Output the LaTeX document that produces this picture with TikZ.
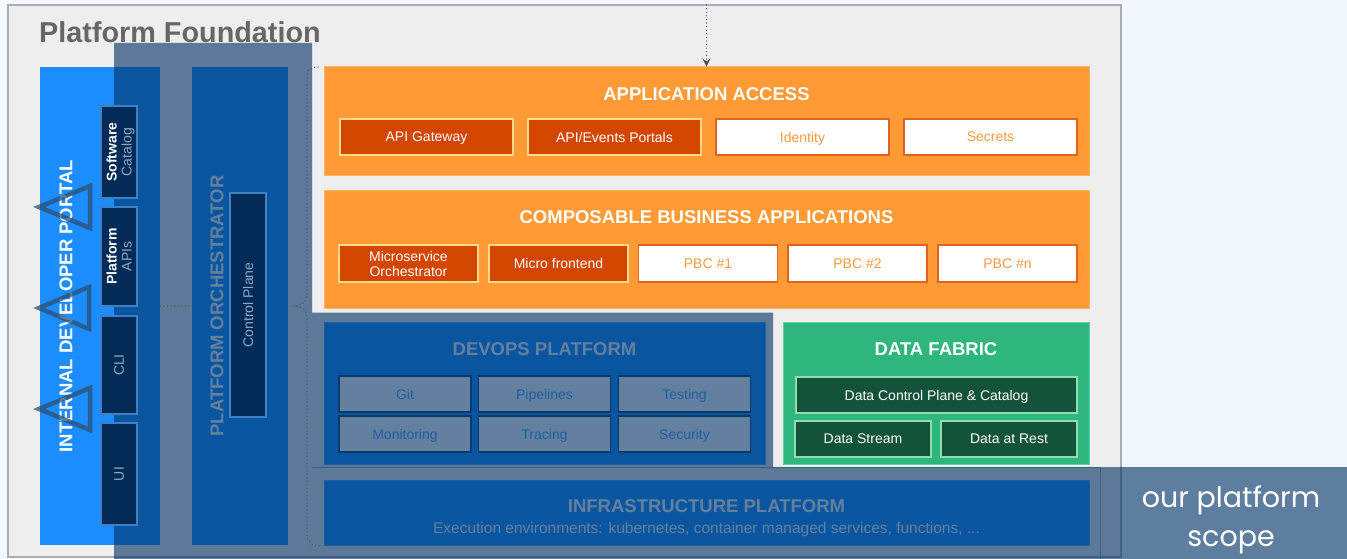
\documentclass[tikz,border=0pt]{standalone}
\usepackage{fontspec}
\setmainfont{Liberation Sans}
\newfontfamily\scopefont{Poppins}
\usetikzlibrary{arrows.meta,calc,positioning}

\definecolor{pagebg}{HTML}{F3F8FE}
\definecolor{foundgray}{HTML}{EEEEEE}
\definecolor{foundline}{HTML}{ADADAD}
\definecolor{foundtext}{HTML}{666666}
\definecolor{portalblue}{HTML}{1B8DFF}
\definecolor{portaledge}{HTML}{4DA6FF}
\definecolor{accessorange}{HTML}{FF9A35}
\definecolor{orangeedge}{HTML}{FFB468}
\definecolor{rust}{HTML}{D24600}
\definecolor{paleyellow}{HTML}{FFD98A}
\definecolor{ember}{HTML}{E0621E}
\definecolor{orangetext}{HTML}{FF9A40}
\definecolor{fabricgreen}{HTML}{2EB67D}
\definecolor{fabricedge}{HTML}{5ED39B}
\definecolor{forest}{HTML}{13533A}
\definecolor{mint}{HTML}{8FDDB0}
\definecolor{navy}{HTML}{022C57}
\definecolor{toolline}{HTML}{3F7FC4}
\definecolor{toolgray}{HTML}{8FA7C2}
\definecolor{opsline}{HTML}{1A467F}
\definecolor{opstext}{HTML}{4FA3FF}
\definecolor{scopeblue}{RGB}{0,50,99}
\definecolor{markblue}{HTML}{2F4F6F}
\definecolor{dotgray}{HTML}{45525F}
\definecolor{scopeedge}{HTML}{3E5E80}

\tikzset{
  boxsize/.style 2 args={minimum width=#1pt, minimum height=#2pt},
  title/.style={text=white, font=\fontsize{18.5}{20}\selectfont\bfseries},
  cell/.style={font=\fontsize{14}{15}\selectfont, line width=1.5pt, align=center, text depth=0pt},
  hotcell/.style={cell, fill=rust, draw=paleyellow, text=white},
  opencell/.style={cell, fill=white, draw=ember, text=orangetext},
  opscell/.style={cell, fill=white, draw=opsline, text=opstext},
  datacell/.style={cell, fill=forest, draw=mint, text=white},
  toolcell/.style={cell, fill=navy, draw=toolline, text=toolgray, rotate=90},
  dots/.style={draw=dotgray, line width=1.3pt, line cap=round, dash pattern=on 0pt off 3.6pt},
  marker/.style={draw=markblue, draw opacity=0.75, line width=4.5pt, line join=miter},
}

\begin{document}
\begin{tikzpicture}[x=1pt, y=-1pt, every node/.style={inner sep=0pt}]
\fill[pagebg] (0,0) rectangle (1347,559);
\useasboundingbox (0,0) rectangle (1347,559);

% outer frame
\node[fill=foundgray, draw=foundline, line width=1.5pt, boxsize={1113}{552}] (found) at (564.5,281) {};
\node[anchor=base west, text=foundtext, font=\fontsize{28.8}{29}\selectfont\bfseries] (foundtitle) at (39,43) {Platform Foundation};

% left columns
\node[fill=portalblue, boxsize={120}{478}] (idp) at (100,306) {};
\node[fill=portalblue, boxsize={96}{478}] (orch) at (240,306) {};
\node[title, rotate=90] (orchtitle) at (217,306) {PLATFORM ORCHESTRATOR};

% access layer
\node[fill=accessorange, draw=orangeedge, line width=1pt, boxsize={765}{109}] (access) at (706.5,121.5) {};
\node[title] (accesstitle) at ($(access.north) + (0,28)$) {APPLICATION ACCESS};
\node[hotcell, boxsize={173}{36}] (gateway) at (426.5,137) {API Gateway};
\node[hotcell, boxsize={173}{36}] (portals) at (614.5,137) {API/Events Portals};
\node[opencell, boxsize={173}{36}] (identity) at (802.5,137) {Identity};
\node[opencell, boxsize={173}{36}] (secrets) at (990.5,137) {Secrets};

% business applications
\node[fill=accessorange, draw=orangeedge, line width=1pt, boxsize={765}{118}] (compose) at (706.5,249) {};
\node[title] (composetitle) at ($(compose.north) + (0,28)$) {COMPOSABLE BUSINESS APPLICATIONS};
\node[hotcell, boxsize={139}{37}] (orchestrator) at (408.5,263.5) {Microservice\\Orchestrator};
\node[hotcell, boxsize={139}{37}] (frontend) at (558.5,263.5) {Micro frontend};
\node[opencell, boxsize={139}{37}] (pbcone) at (708,263.5) {PBC \#1};
\node[opencell, boxsize={139}{37}] (pbctwo) at (857.5,263.5) {PBC \#2};
\node[opencell, boxsize={139}{37}] (pbcn) at (1007.5,263.5) {PBC \#n};

% devops
\node[fill=portalblue, draw=portaledge, line width=1pt, boxsize={441}{142}] (devops) at (544.5,393) {};
\node[title] (devopstitle) at ($(devops.north) + (0,28)$) {DEVOPS PLATFORM};
\node[opscell, boxsize={132}{36}] (git) at (405,394) {Git};
\node[opscell, boxsize={132}{36}] (pipelines) at (544.5,394) {Pipelines};
\node[opscell, boxsize={132}{36}] (testing) at (684.5,394) {Testing};
\node[opscell, boxsize={132}{36}] (monitoring) at (405,434) {Monitoring};
\node[opscell, boxsize={132}{36}] (tracing) at (544.5,434) {Tracing};
\node[opscell, boxsize={132}{36}] (security) at (684.5,434) {Security};

% data
\node[fill=fabricgreen, draw=fabricedge, line width=1pt, boxsize={306}{142}] (fabric) at (936,393) {};
\node[title] (fabrictitle) at ($(fabric.north) + (0,28)$) {DATA FABRIC};
\node[datacell, boxsize={281}{36}] (datactl) at (936.5,395) {Data Control Plane \& Catalog};
\node[datacell, boxsize={136}{36}] (stream) at (863,439) {Data Stream};
\node[datacell, boxsize={136}{36}] (rest) at (1009,439) {Data at Rest};

% infrastructure
\node[fill=portalblue, draw=portaledge, line width=1pt, boxsize={765}{65}] (infra) at (706.5,512.5) {};
\node[title] (infratitle) at ($(infra.north) + (0,27)$) {INFRASTRUCTURE PLATFORM};
\node[text=white, text depth=0pt, font=\fontsize{15.5}{16}\selectfont] (infrasub) at ($(infra.north) + (0,48)$) {Execution environments: kubernetes, container managed services, functions, ...};

% scope shading
\fill[scopeblue, fill opacity=0.61] (114,43) -- (312,43) -- (312,312.5) -- (773,312.5) -- (773,467) -- (1347,467) -- (1347,559) -- (114,559) -- cycle;
\draw[scopeedge, line width=1pt] (312,467.5) -- (1100,467.5) -- (1100,559);

% portal tools
\node[toolcell, boxsize={92}{36}] (catalog) at (119,152) {\textcolor{white}{\bfseries Software}\\Catalog};
\node[toolcell, boxsize={99}{36}] (apis) at (119,256.5) {\textcolor{white}{\bfseries Platform}\\APIs};
\node[toolcell, boxsize={98}{36}] (cli) at (119,365) {CLI};
\node[toolcell, boxsize={102}{36}] (ui) at (119,474) {UI};
\node[toolcell, boxsize={224}{36}] (ctlplane) at (248,305) {Control Plane};
\node[title, rotate=90] (idptitle) at (66,306) {INTERNAL DEVELOPER PORTAL};

\draw[marker] (39,207) -- (90,186) -- (90,228) -- cycle;
\draw[marker] (39,308) -- (89,287) -- (89,329) -- cycle;
\draw[marker] (39,409) -- (90,388) -- (90,430) -- cycle;

% links
\draw[dots] (idp.east) -- (orch.west);
\coordinate (bracetop) at (318,67);
\coordinate (nub) at ($(orch.east) + (5,0)$);
\coordinate (bracebot) at (321,546);
\draw[dots] (bracetop) .. controls (309,67) and (307,70) .. (307,78) -- (307,294)
  .. controls (307,302) and (302,306) .. (nub)
  .. controls (302,306) and (307,310) .. (307,318) -- (307,534)
  .. controls (307,542) and (311,546) .. (bracebot);
\coordinate (feed) at (706.5,5);
\draw[dots, -{Stealth[length=8pt, width=8pt, inset=3pt]}] (feed) -- (access.north);

\node[text=white, align=center, font=\scopefont\fontsize{28.5}{39}\selectfont] (scopelbl) at (1231,520) {our platform\\scope};
\end{tikzpicture}
\end{document}
